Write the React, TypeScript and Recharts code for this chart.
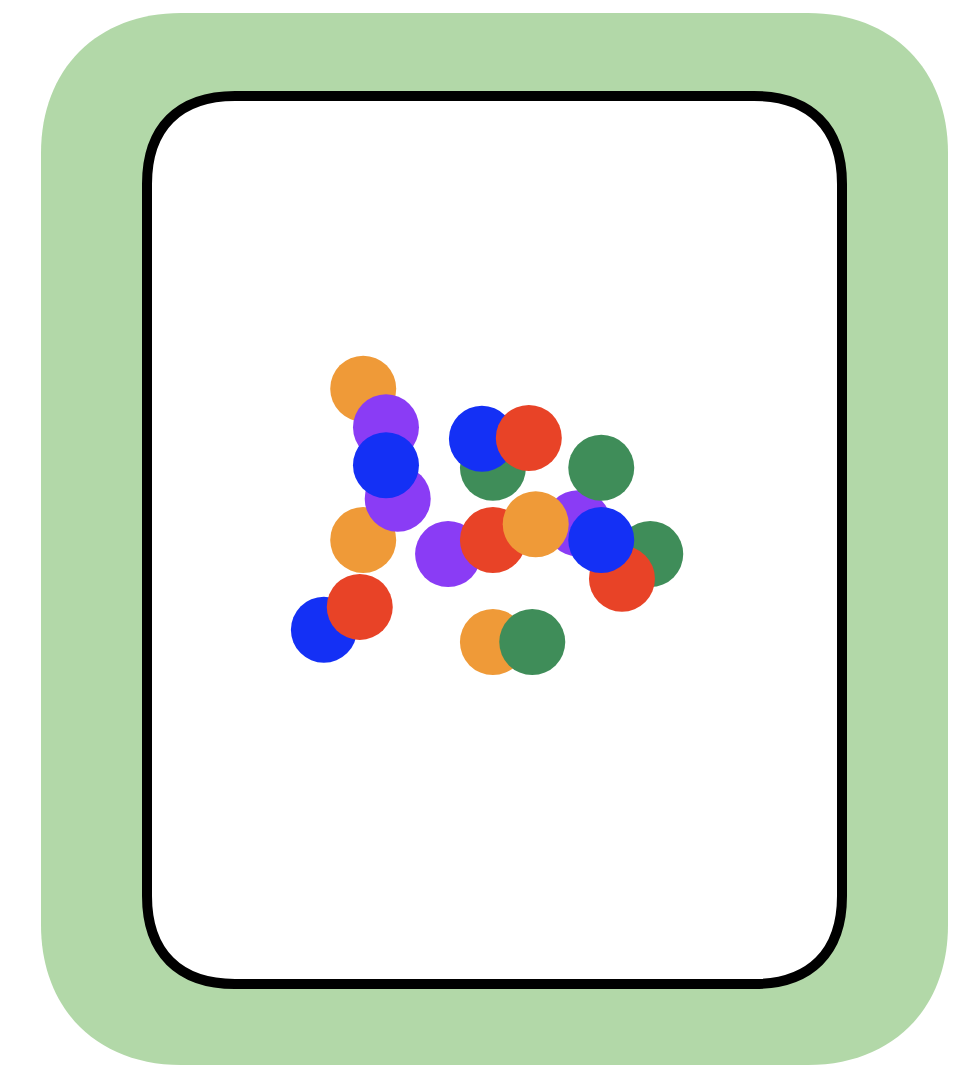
import React from "react";
import { ScatterChart, Scatter, XAxis, YAxis, ZAxis, Cell } from "recharts";

const groups = ["orange", "orange", "purple", "purple", "blue", "blue", "red", "green", "blue", "red", "purple", "red", "purple", "orange", "green", "red", "blue", "orange", "green", "green"];
const xValues = [3.09, 3.09, 3.59, 3.42, 3.42, 2.52, 3.04, 4.97, 4.81, 5.49, 4.32, 4.97, 6.2, 5.59, 7.25, 6.84, 6.54, 4.97, 5.54, 6.54];
const yValues = [6.72, 5.0, 5.47, 6.28, 5.85, 3.98, 4.24, 5.82, 6.15, 6.16, 4.84, 5.0, 5.19, 5.18, 4.84, 4.56, 5.0, 3.84, 3.84, 5.82];

const palette: Record<string, string> = {
  orange: "#EF9A38",
  purple: "#8A3CF5",
  blue: "#1430F5",
  red: "#E84327",
  green: "#3F8D59",
};

const points = xValues.map((x, i) => ({ x, y: yValues[i], group: groups[i], z: 1 }));

function squircleRect(x0: number, y0: number, x1: number, y1: number, r: number, k: number) {
  const c = r * (1 - k);
  return [
    `M ${x0 + r} ${y0}`,
    `L ${x1 - r} ${y0}`,
    `C ${x1 - c} ${y0} ${x1} ${y0 + c} ${x1} ${y0 + r}`,
    `L ${x1} ${y1 - r}`,
    `C ${x1} ${y1 - c} ${x1 - c} ${y1} ${x1 - r} ${y1}`,
    `L ${x0 + r} ${y1}`,
    `C ${x0 + c} ${y1} ${x0} ${y1 - c} ${x0} ${y1 - r}`,
    `L ${x0} ${y0 + r}`,
    `C ${x0} ${y0 + c} ${x0 + c} ${y0} ${x0 + r} ${y0}`,
    "Z",
  ].join(" ");
}

export default function App() {
  return (
    <div style={{ position: "absolute", left: 0, top: 0, width: 960, height: 1080, background: "#fff", overflow: "hidden" }}>
      <svg width={960} height={1080} style={{ position: "absolute", left: 0, top: 0 }}>
        <path d={squircleRect(41, 13, 948, 1065, 140, 0.6)} fill="#B2D8A8" />
        <path d={squircleRect(147, 96, 842, 984, 88, 0.64)} fill="#fff" stroke="#000" strokeWidth={10} />
      </svg>
      <div style={{ position: "absolute", left: 0, top: 0 }}>
        <ScatterChart width={960} height={1080} margin={{ left: 150, right: 120, top: 100, bottom: 100 }}>
          <XAxis type="number" dataKey="x" domain={[0, 10]} hide />
          <YAxis type="number" dataKey="y" domain={[0, 10]} hide />
          <ZAxis type="number" dataKey="z" range={[3421, 3421]} />
          <Scatter data={points} shape="circle" isAnimationActive={false}>
            {points.map((p, i) => (
              <Cell key={i} fill={palette[p.group]} />
            ))}
          </Scatter>
        </ScatterChart>
      </div>
    </div>
  );
}
